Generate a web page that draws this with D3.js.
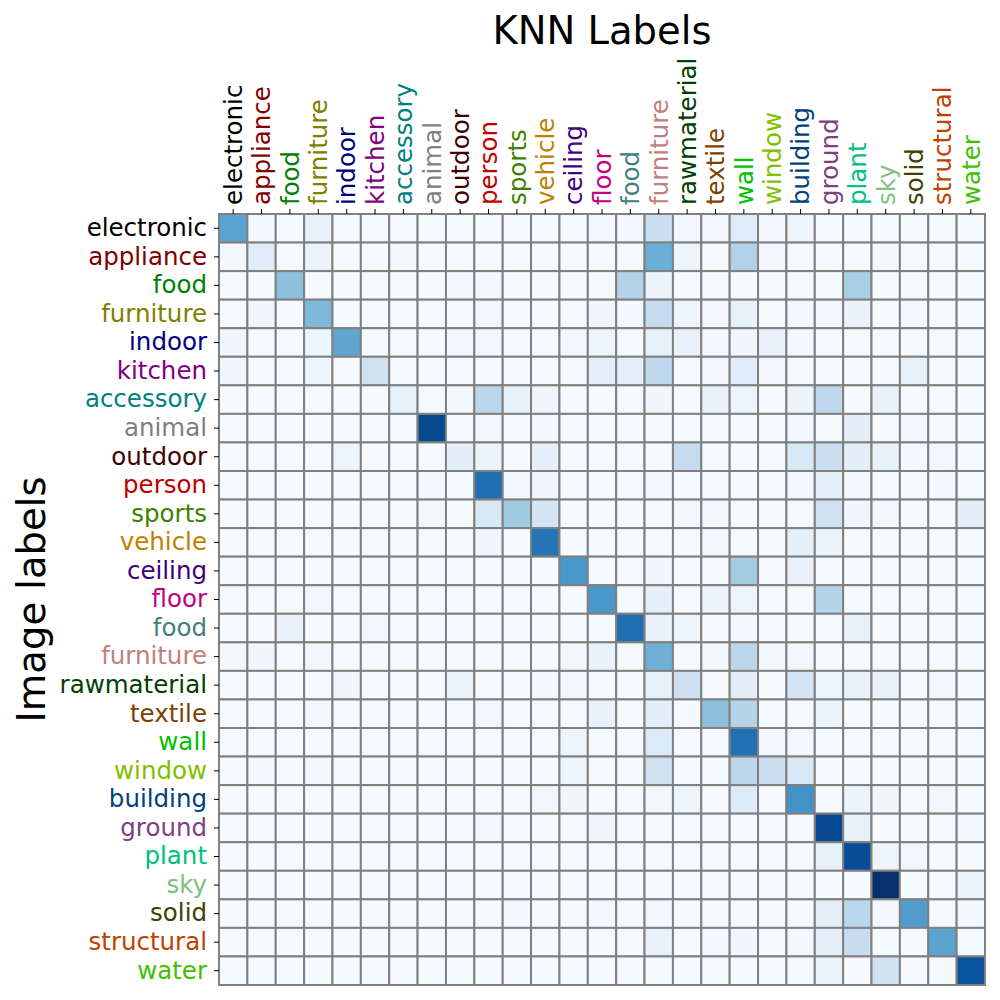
<!DOCTYPE html>
<html>
<head>
<meta charset="utf-8">
<script src="https://cdn.jsdelivr.net/npm/d3@7/dist/d3.min.js"></script>
<style>
  html, body { margin: 0; padding: 0; background: #fff; }
  svg { display: block; font-family: "DejaVu Sans", sans-serif; }
</style>
</head>
<body>
<script>
const categories = ["electronic","appliance","food","furniture","indoor","kitchen","accessory","animal","outdoor","person","sports","vehicle","ceiling","floor","food","furniture","rawmaterial","textile","wall","window","building","ground","plant","sky","solid","structural","water"];
const labelColors = ["#000000","#800000","#008000","#808000","#000080","#800080","#008080","#808080","#400000","#c00000","#408000","#c08000","#400080","#c00080","#408080","#c08080","#004000","#804000","#00c000","#80c000","#004080","#804080","#00c080","#80c080","#404000","#c04000","#40c000"];
const titleText = "KNN Labels";
const yTitleText = "Image labels";

// rows = image labels, columns = KNN labels
const values = [
  [0.55,0.02,0.01,0.07,0.01,0.01,0.01,0.01,0.01,0.01,0.01,0.01,0.01,0.03,0.02,0.22,0.03,0.02,0.12,0.02,0.05,0.01,0.01,0.01,0.01,0.01,0.01],
  [0.03,0.12,0.01,0.06,0.01,0.01,0.02,0.01,0.01,0.01,0.01,0.01,0.01,0.01,0.01,0.50,0.05,0.01,0.32,0.03,0.01,0.01,0.01,0.02,0.01,0.01,0.01],
  [0.01,0.01,0.42,0.01,0.01,0.01,0.01,0.01,0.02,0.03,0.01,0.01,0.01,0.01,0.31,0.06,0.01,0.01,0.01,0.01,0.01,0.01,0.34,0.01,0.01,0.01,0.01],
  [0.01,0.04,0.01,0.45,0.01,0.01,0.01,0.01,0.01,0.03,0.01,0.01,0.01,0.04,0.02,0.25,0.05,0.03,0.08,0.01,0.02,0.03,0.07,0.01,0.02,0.01,0.01],
  [0.04,0.01,0.01,0.05,0.54,0.01,0.01,0.01,0.03,0.03,0.01,0.01,0.03,0.05,0.01,0.08,0.07,0.02,0.04,0.07,0.02,0.01,0.01,0.01,0.01,0.01,0.01],
  [0.04,0.01,0.01,0.05,0.01,0.20,0.01,0.01,0.01,0.01,0.01,0.01,0.01,0.09,0.09,0.27,0.01,0.03,0.11,0.02,0.01,0.01,0.01,0.01,0.08,0.01,0.01],
  [0.01,0.01,0.01,0.01,0.01,0.01,0.08,0.01,0.02,0.28,0.08,0.04,0.01,0.01,0.01,0.04,0.01,0.07,0.05,0.01,0.06,0.27,0.01,0.07,0.01,0.01,0.01],
  [0.01,0.01,0.01,0.01,0.01,0.01,0.01,0.91,0.01,0.03,0.01,0.02,0.01,0.01,0.01,0.01,0.01,0.01,0.01,0.01,0.02,0.01,0.10,0.01,0.03,0.01,0.01],
  [0.01,0.01,0.01,0.01,0.05,0.01,0.01,0.01,0.10,0.06,0.01,0.09,0.01,0.01,0.01,0.01,0.25,0.01,0.01,0.01,0.15,0.22,0.10,0.08,0.02,0.03,0.01],
  [0.01,0.01,0.01,0.01,0.01,0.01,0.01,0.02,0.01,0.76,0.03,0.04,0.01,0.01,0.01,0.03,0.01,0.01,0.01,0.01,0.02,0.09,0.03,0.01,0.01,0.02,0.01],
  [0.01,0.01,0.01,0.01,0.01,0.01,0.01,0.03,0.01,0.15,0.37,0.17,0.01,0.01,0.01,0.01,0.02,0.02,0.01,0.01,0.01,0.20,0.04,0.03,0.01,0.01,0.10],
  [0.01,0.01,0.01,0.01,0.01,0.01,0.01,0.01,0.01,0.04,0.01,0.74,0.01,0.01,0.01,0.01,0.01,0.02,0.01,0.01,0.09,0.06,0.01,0.01,0.01,0.01,0.01],
  [0.01,0.01,0.01,0.01,0.01,0.01,0.01,0.01,0.01,0.01,0.01,0.01,0.60,0.01,0.01,0.04,0.01,0.01,0.36,0.01,0.07,0.01,0.01,0.01,0.01,0.01,0.01],
  [0.01,0.01,0.01,0.03,0.01,0.01,0.01,0.01,0.01,0.01,0.01,0.01,0.01,0.60,0.01,0.09,0.01,0.06,0.05,0.01,0.01,0.30,0.01,0.01,0.01,0.01,0.01],
  [0.01,0.01,0.07,0.01,0.01,0.03,0.01,0.01,0.01,0.01,0.01,0.01,0.01,0.01,0.76,0.07,0.05,0.01,0.02,0.01,0.01,0.01,0.08,0.01,0.01,0.01,0.01],
  [0.02,0.04,0.01,0.03,0.01,0.01,0.01,0.01,0.01,0.01,0.01,0.01,0.03,0.07,0.01,0.49,0.01,0.02,0.28,0.03,0.03,0.01,0.01,0.01,0.01,0.01,0.01],
  [0.01,0.01,0.01,0.01,0.04,0.01,0.01,0.01,0.06,0.01,0.01,0.02,0.03,0.01,0.01,0.08,0.21,0.01,0.10,0.01,0.18,0.05,0.07,0.07,0.01,0.03,0.01],
  [0.01,0.01,0.01,0.02,0.01,0.01,0.01,0.01,0.01,0.03,0.01,0.01,0.01,0.07,0.01,0.10,0.01,0.42,0.30,0.01,0.01,0.06,0.01,0.01,0.01,0.01,0.01],
  [0.01,0.01,0.01,0.01,0.01,0.01,0.01,0.01,0.01,0.01,0.01,0.01,0.05,0.01,0.01,0.13,0.01,0.01,0.75,0.02,0.03,0.01,0.01,0.01,0.01,0.01,0.01],
  [0.01,0.02,0.01,0.02,0.01,0.01,0.01,0.01,0.01,0.01,0.01,0.01,0.05,0.01,0.01,0.20,0.01,0.01,0.28,0.22,0.14,0.01,0.01,0.01,0.01,0.01,0.01],
  [0.01,0.01,0.01,0.01,0.01,0.01,0.01,0.01,0.01,0.01,0.01,0.03,0.04,0.01,0.01,0.03,0.05,0.01,0.13,0.01,0.62,0.01,0.06,0.04,0.01,0.03,0.01],
  [0.01,0.01,0.01,0.01,0.01,0.01,0.01,0.01,0.01,0.02,0.01,0.01,0.01,0.04,0.01,0.01,0.01,0.01,0.01,0.01,0.01,0.90,0.08,0.01,0.01,0.01,0.02],
  [0.01,0.01,0.01,0.01,0.01,0.01,0.01,0.01,0.01,0.01,0.01,0.01,0.01,0.01,0.01,0.01,0.01,0.01,0.01,0.01,0.01,0.08,0.89,0.05,0.03,0.01,0.01],
  [0.01,0.01,0.01,0.01,0.01,0.01,0.01,0.01,0.01,0.01,0.01,0.01,0.01,0.01,0.01,0.01,0.01,0.01,0.01,0.01,0.01,0.01,0.01,1.00,0.01,0.01,0.06],
  [0.01,0.01,0.01,0.01,0.01,0.01,0.01,0.01,0.01,0.01,0.02,0.01,0.01,0.02,0.01,0.02,0.01,0.01,0.01,0.01,0.01,0.09,0.29,0.03,0.58,0.01,0.02],
  [0.01,0.01,0.01,0.01,0.01,0.01,0.01,0.01,0.01,0.01,0.01,0.01,0.01,0.01,0.01,0.07,0.01,0.03,0.04,0.01,0.03,0.09,0.24,0.01,0.01,0.55,0.01],
  [0.01,0.01,0.01,0.01,0.01,0.01,0.01,0.01,0.01,0.01,0.01,0.01,0.01,0.01,0.01,0.01,0.01,0.01,0.01,0.01,0.01,0.06,0.01,0.20,0.01,0.01,0.87]
];

const blues9 = ["#f7fbff","#deebf7","#c6dbef","#9ecae1","#6baed6","#4292c6","#2171b5","#08519c","#08306b"];

const W = 1000, H = 1000;
const gLeft = 219, gRight = 985, gTop = 214, gBottom = 985;

const svg = d3.select("body").append("svg").attr("width", W).attr("height", H);

const idx = d3.range(categories.length);
const x = d3.scaleBand().domain(idx).range([gLeft, gRight]).padding(0);
const y = d3.scaleBand().domain(idx).range([gTop, gBottom]).padding(0);
const color = d3.scaleLinear()
  .domain(d3.range(blues9.length).map(i => i / (blues9.length - 1)))
  .range(blues9)
  .interpolate(d3.interpolateRgb)
  .clamp(true);

const cells = [];
values.forEach((row, r) => row.forEach((v, c) => cells.push({r, c, v})));

svg.append("g").selectAll("rect").data(cells).join("rect")
  .attr("x", d => x(d.c))
  .attr("y", d => y(d.r))
  .attr("width", x.bandwidth())
  .attr("height", y.bandwidth())
  .attr("fill", d => color(d.v))
  .attr("stroke", "#808080")
  .attr("stroke-width", 2);

// top axis
const xAxis = svg.append("g")
  .attr("transform", `translate(0,${gTop})`)
  .call(d3.axisTop(x).tickSize(5).tickFormat(i => categories[i]));
xAxis.select(".domain").remove();
xAxis.selectAll(".tick line").attr("stroke", "#000").attr("stroke-width", 1);
xAxis.selectAll(".tick text")
  .attr("transform", "rotate(-90)")
  .attr("x", 9)
  .attr("y", 0)
  .attr("dy", "0.36em")
  .attr("text-anchor", "start")
  .attr("font-size", 24.5)
  .attr("font-family", "DejaVu Sans, sans-serif")
  .attr("fill", (d) => labelColors[d]);

// left axis
const yAxis = svg.append("g")
  .attr("transform", `translate(${gLeft},0)`)
  .call(d3.axisLeft(y).tickSize(5).tickPadding(7).tickFormat(i => categories[i]));
yAxis.select(".domain").remove();
yAxis.selectAll(".tick line").attr("stroke", "#000").attr("stroke-width", 1);
yAxis.selectAll(".tick text")
  .attr("font-size", 24.5)
  .attr("font-family", "DejaVu Sans, sans-serif")
  .attr("fill", (d) => labelColors[d]);

// title
svg.append("text")
  .attr("x", (gLeft + gRight) / 2)
  .attr("y", 44)
  .attr("text-anchor", "middle")
  .attr("font-size", 38.5)
  .attr("fill", "#000")
  .text(titleText);

// y title
svg.append("text")
  .attr("transform", `translate(45,${(gTop + gBottom) / 2}) rotate(-90)`)
  .attr("text-anchor", "middle")
  .attr("font-size", 38.5)
  .attr("fill", "#000")
  .text(yTitleText);
</script>
</body>
</html>
